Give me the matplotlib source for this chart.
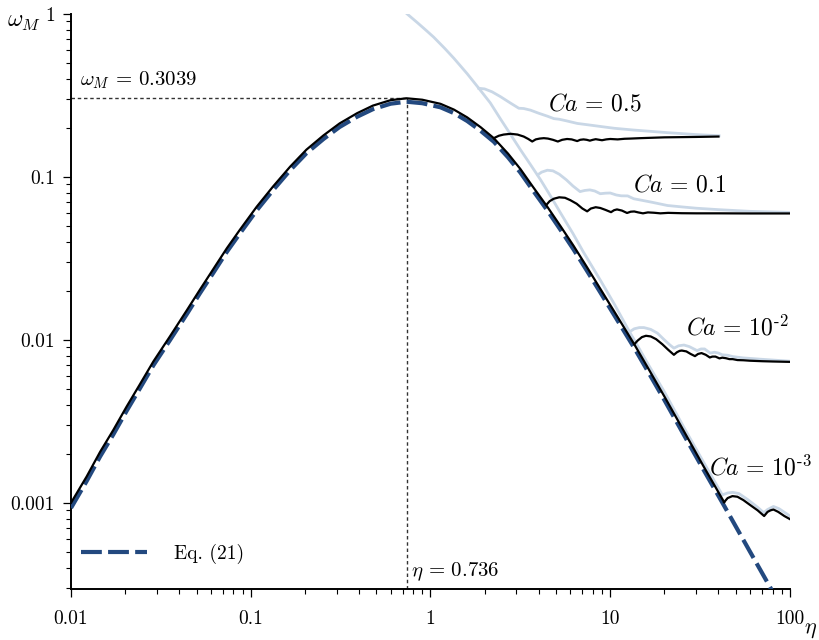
import matplotlib
matplotlib.use("Agg")
import matplotlib.pyplot as plt
from matplotlib.ticker import FixedLocator, NullFormatter, LogLocator

plt.rcParams['font.family'] = 'serif'
plt.rcParams['font.serif'] = ['cmr10']
plt.rcParams['mathtext.fontset'] = 'cm'
plt.rcParams['axes.unicode_minus'] = False

# ---------------- data ----------------
main_eta = [0.01, 0.01222, 0.0145, 0.0172, 0.0204, 0.0242, 0.0287, 0.0355, 0.0441, 0.0521,
            0.0619, 0.0736, 0.0869, 0.108, 0.133, 0.1657, 0.204, 0.254, 0.312, 0.39, 0.478,
            0.6, 0.736, 0.9, 1.137, 1.35, 1.6, 1.9, 2.25, 2.7, 3.16, 3.7, 4.45, 5.3, 6.25,
            7.4, 8.8, 10.5, 12, 13.6, 16, 20, 25.7, 33, 43]
main_om = [0.001, 0.00145, 0.00205, 0.0028, 0.0039, 0.00535, 0.00736, 0.0105, 0.0152, 0.0203,
           0.0272, 0.0365, 0.0473, 0.0657, 0.0873, 0.1157, 0.147, 0.180, 0.213, 0.246, 0.274,
           0.296, 0.3039, 0.2978, 0.281, 0.259, 0.232, 0.202, 0.173, 0.139, 0.112, 0.0875, 0.066,
           0.0497, 0.0378, 0.0281, 0.0206, 0.0150, 0.0118, 0.0094, 0.0069, 0.0045, 0.00275,
           0.00168, 0.00101]

eq21_eta = main_eta + [60, 78, 100]
eq21_om = [0.00093, 0.00136, 0.00192, 0.00263, 0.00367, 0.00505, 0.00697, 0.00995, 0.0144, 0.0193,
           0.0258, 0.0347, 0.0449, 0.0624, 0.0829, 0.110, 0.1397, 0.171, 0.2025, 0.234, 0.2605,
           0.2815, 0.2895, 0.2835, 0.2675, 0.2465, 0.2205, 0.192, 0.1645, 0.132, 0.1065, 0.0832,
           0.0627, 0.0472, 0.0359, 0.0267, 0.0196, 0.01425, 0.0112, 0.00893, 0.00656, 0.00428,
           0.00261, 0.0016, 0.00096, 0.00050, 0.0003, 0.000182]

asym_eta = [0.742, 0.85, 0.95, 1.043, 1.2, 1.349, 1.6, 1.857, 2.15, 2.45, 2.8, 3.17, 3.6, 4.1,
            4.7, 5.3, 6.2, 7.1, 8.8, 10.5, 12.8, 13.6, 16, 20, 25.7, 33, 42]
asym_om = [1.0, 0.88, 0.79, 0.72, 0.615, 0.535, 0.43, 0.35, 0.285, 0.227, 0.181, 0.1465, 0.119,
           0.0959, 0.075, 0.0599, 0.045, 0.0345, 0.0233, 0.0167, 0.0112, 0.0100, 0.0073, 0.0048,
           0.0029, 0.00178, 0.00112]

ca05_eta = [2.25, 2.4, 2.55, 2.79, 3.05, 3.3, 3.5, 3.68, 3.85, 4.05, 4.27, 4.5, 4.8, 5.11, 5.4,
            5.75, 6.1, 6.55, 6.8, 7.1, 7.4, 7.7, 8.0, 8.3, 8.7, 9.0, 9.5, 10, 11, 12, 13, 14.7,
            20, 30, 40]
ca05_om = [0.173, 0.179, 0.182, 0.184, 0.182, 0.177, 0.171, 0.165, 0.170, 0.172, 0.173, 0.172,
           0.169, 0.165, 0.169, 0.171, 0.170, 0.166, 0.169, 0.170, 0.169, 0.167, 0.169, 0.1705,
           0.169, 0.168, 0.170, 0.171, 0.170, 0.1715, 0.172, 0.173, 0.175, 0.176, 0.177]
ca05_light_eta = [1.857, 2.0, 2.2, 2.45, 2.8, 3.1, 3.3, 3.6, 4.0, 4.47, 4.86, 5.2, 5.7, 6.56,
                  7.5, 8.84, 10.5, 13.5, 20.8, 30, 40.3]
ca05_light_om = [0.35, 0.347, 0.333, 0.311, 0.283, 0.264, 0.263, 0.257, 0.246, 0.236, 0.228,
                 0.226, 0.221, 0.213, 0.209, 0.204, 0.199, 0.194, 0.187, 0.182, 0.179]

ca01_eta = [4.4, 4.6, 4.85, 5.2, 5.6, 6.0, 6.5, 7.0, 7.44, 7.8, 8.3, 8.8, 9.4, 10.1, 10.5, 10.9,
            11.6, 12.4, 13.0, 13.6, 14.3, 15.2, 16.2, 17.5, 19, 21, 25, 30, 40, 60, 100]
ca01_om = [0.0672, 0.071, 0.0735, 0.075, 0.0745, 0.072, 0.0685, 0.064, 0.0615, 0.064, 0.0652,
           0.0645, 0.0628, 0.0608, 0.0625, 0.0632, 0.0622, 0.0601, 0.0612, 0.0614, 0.0606, 0.0598,
           0.0606, 0.0603, 0.0598, 0.0602, 0.0599, 0.0598, 0.0598, 0.0597, 0.0597]
ca01_light_eta = [3.95, 4.15, 4.47, 4.8, 5.2, 5.7, 6.2, 6.79, 7.2, 7.7, 8.2, 8.8, 9.4, 10.0, 10.8,
                  11.5, 12.5, 13.5, 14.7, 17, 20.8, 25, 30, 40, 60, 100]
ca01_light_om = [0.103, 0.107, 0.110, 0.109, 0.104, 0.096, 0.088, 0.0813, 0.0826, 0.0833, 0.082,
                 0.0789, 0.0795, 0.0797, 0.0775, 0.0766, 0.0765, 0.0735, 0.0722, 0.0700, 0.0668,
                 0.0655, 0.0643, 0.063, 0.0615, 0.0606]

ca2_eta = [13.6, 14.2, 15.0, 15.8, 16.8, 18, 19.5, 21, 22.6, 23.5, 24.3, 25.0, 26.5, 28, 29.6,
           30.8, 32.2, 34, 35.8, 37, 38.5, 40.5, 42, 44, 46, 48, 51, 55, 60, 70, 80, 100]
ca2_om = [0.0094, 0.0099, 0.0104, 0.0106, 0.0105, 0.0101, 0.0094, 0.0087, 0.0081, 0.0084,
          0.00856, 0.0086, 0.0085, 0.0082, 0.00795, 0.0082, 0.0083, 0.0081, 0.0078, 0.0079,
          0.0079, 0.0077, 0.00778, 0.00772, 0.00762, 0.00762, 0.00752, 0.0075, 0.00745, 0.0074,
          0.00737, 0.00733]
ca2_light_eta = [12.8, 13.6, 14.5, 15.4, 16.8, 18.3, 20, 21.5, 22.6, 24, 25.7, 27.5, 30.4, 32,
                 33.5, 36, 38, 40, 42, 45, 48, 55, 70, 100]
ca2_light_om = [0.0112, 0.0117, 0.0119, 0.0119, 0.0116, 0.0110, 0.0100, 0.0093, 0.0089, 0.0092,
                0.0093, 0.0091, 0.0086, 0.0088, 0.0088, 0.0083, 0.0084, 0.0083, 0.0081, 0.00805,
                0.0079, 0.00775, 0.0076, 0.0074]

ca3_eta = [43, 45, 47.8, 51, 55, 60, 66, 71.8, 75, 78, 80.9, 86, 93, 100]
ca3_om = [0.00101, 0.00107, 0.0011, 0.00109, 0.00104, 0.00097, 0.00090, 0.00083, 0.00088, 0.0009,
          0.00091, 0.00088, 0.00083, 0.000794]
ca3_light_eta = [42, 45, 48, 52, 58, 66, 71.5, 75, 80.9, 87, 100]
ca3_light_om = [0.00112, 0.00115, 0.00116, 0.00114, 0.00105, 0.00094, 0.00087, 0.00091, 0.00095,
                0.00092, 0.00083]

eta_max = 0.736
omega_max = 0.3039

xticks = [0.01, 0.1, 1, 10, 100]
xticklabels = ['0.01', '0.1', '1', '10', '100']
yticks = [0.001, 0.01, 0.1, 1]
yticklabels = ['0.001', '0.01', '0.1', '1']

# ---------------- figure ----------------
fig = plt.figure(figsize=(8.2, 6.4), dpi=100)
ax = fig.add_axes([71/820, 51/640, 719/820, 575/640])
ax.set_xscale('log')
ax.set_yscale('log')
ax.set_xlim(0.01, 100)
ax.set_ylim(2.96e-4, 1)

light = '#c9d7e6'
blue = '#23497f'

for e, o in [(asym_eta, asym_om), (ca05_light_eta, ca05_light_om), (ca01_light_eta, ca01_light_om),
             (ca2_light_eta, ca2_light_om), (ca3_light_eta, ca3_light_om)]:
    ax.plot(e, o, color=light, lw=2.0, zorder=2, solid_joinstyle='round')

ax.plot(eq21_eta, eq21_om, color=blue, lw=3, dashes=(5, 1.5), zorder=3, label='Eq. (21)')

for e, o in [(main_eta, main_om), (ca05_eta, ca05_om), (ca01_eta, ca01_om),
             (ca2_eta, ca2_om), (ca3_eta, ca3_om)]:
    ax.plot(e, o, color='black', lw=1.6, zorder=4, solid_joinstyle='round')

ax.plot([0.01, eta_max], [omega_max, omega_max], color='#333333', lw=1.0, ls=(0, (2.5, 2)), zorder=1)
ax.plot([eta_max, eta_max], [2.96e-4, omega_max], color='#333333', lw=1.0, ls=(0, (2.5, 2)), zorder=1)

ax.text(0.01125, 0.394, r'$\omega_M\,=\,0.3039$', fontsize=15, ha='left', va='center')
ax.text(0.774, 0.00038, r'$\eta\,=\,0.736$', fontsize=15, ha='left', va='center')

ax.text(8.19, 0.28, r'$Ca\,=\,0.5$', fontsize=17, ha='center', va='center')
ax.text(24.3, 0.0893, r'$Ca\,=\,0.1$', fontsize=17, ha='center', va='center')
ax.text(51.2, 0.01185, r'$Ca\,=\,10^{\text{-}2}$', fontsize=17, ha='center', va='center')
ax.text(68.8, 0.00164, r'$Ca\,=\,10^{\text{-}3}$', fontsize=17, ha='center', va='center')

fig.text(7/820, 1 - 22/640, r'$\omega_M$', fontsize=17, ha='left', va='center')
fig.text(804/820, 1 - 630/640, r'$\eta$', fontsize=16, ha='left', va='center')

ax.xaxis.set_major_locator(FixedLocator(xticks))
ax.set_xticklabels(xticklabels)
ax.yaxis.set_major_locator(FixedLocator(yticks))
ax.set_yticklabels(yticklabels)
ax.xaxis.set_minor_locator(LogLocator(base=10, subs=range(2, 10)))
ax.yaxis.set_minor_locator(LogLocator(base=10, subs=range(2, 10)))
ax.xaxis.set_minor_formatter(NullFormatter())
ax.yaxis.set_minor_formatter(NullFormatter())

for s in ['top', 'right']:
    ax.spines[s].set_visible(False)
for s in ['left', 'bottom']:
    ax.spines[s].set_linewidth(1.4)
ax.tick_params(which='major', direction='out', length=5.5, width=0.9, labelsize=14)
ax.tick_params(which='minor', direction='out', length=3.8, width=0.8)
ax.tick_params(axis='x', which='major', pad=10)
ax.tick_params(axis='y', which='major', pad=6)

leg = ax.legend(loc='center left', bbox_to_anchor=(10/719, 35/575), frameon=False,
                fontsize=14, handlelength=3.4, handletextpad=1.4, borderpad=0, borderaxespad=0)

fig.savefig('out.png', dpi=100)
